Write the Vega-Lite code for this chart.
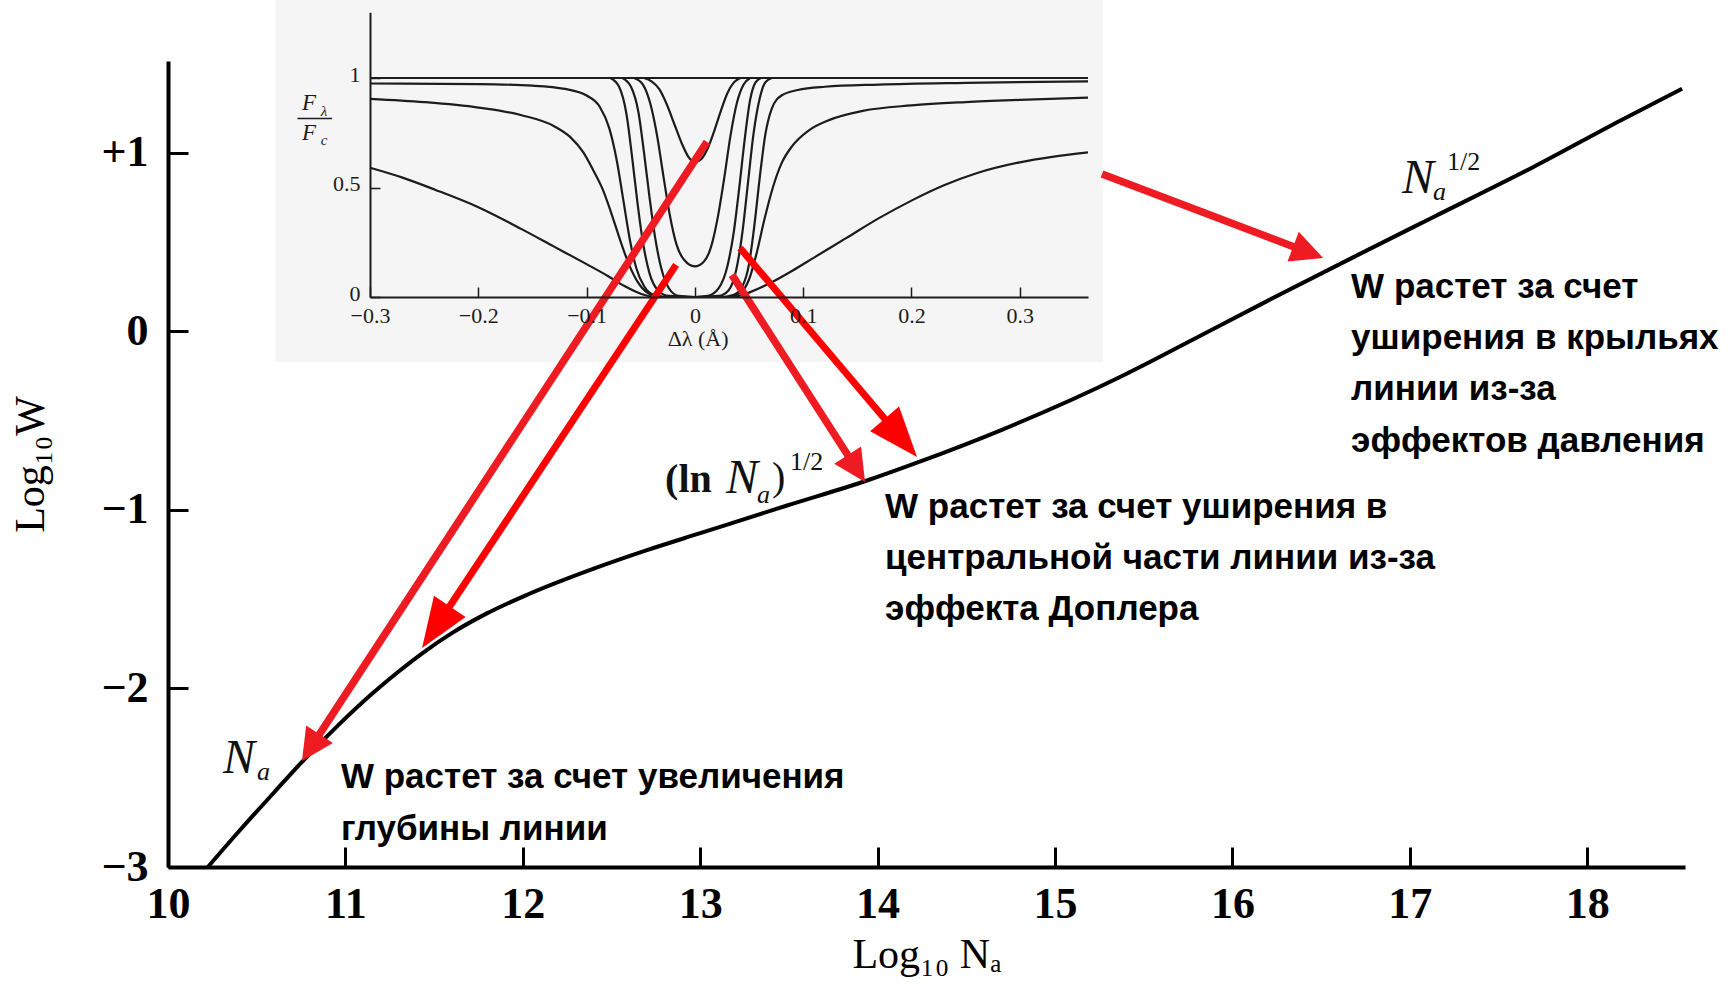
{
  "$schema": "https://vega.github.io/schema/vega-lite/v6.json",
  "width": 1517,
  "height": 806,
  "autosize": {"type": "none"},
  "padding": {"left": 168, "top": 61, "right": 49, "bottom": 117},
  "background": "#ffffff",
  "config": {"view": {"stroke": null}},
  "datasets": {
    "curve": [
      {"logN": 10.225, "logW": -3.0},
      {"logN": 10.4, "logW": -2.8},
      {"logN": 10.6, "logW": -2.58},
      {"logN": 10.761, "logW": -2.405},
      {"logN": 10.95, "logW": -2.215},
      {"logN": 11.15, "logW": -2.03},
      {"logN": 11.3, "logW": -1.905},
      {"logN": 11.437, "logW": -1.8},
      {"logN": 11.6, "logW": -1.69},
      {"logN": 11.8, "logW": -1.578},
      {"logN": 12.024, "logW": -1.475},
      {"logN": 12.396, "logW": -1.33},
      {"logN": 12.7, "logW": -1.225},
      {"logN": 13.0, "logW": -1.13},
      {"logN": 13.49, "logW": -0.975},
      {"logN": 13.94, "logW": -0.835},
      {"logN": 14.222, "logW": -0.735},
      {"logN": 14.69, "logW": -0.555},
      {"logN": 15.366, "logW": -0.255},
      {"logN": 15.575, "logW": -0.15},
      {"logN": 16.195, "logW": 0.17},
      {"logN": 16.68, "logW": 0.415},
      {"logN": 17.131, "logW": 0.64},
      {"logN": 17.694, "logW": 0.92},
      {"logN": 18.185, "logW": 1.18},
      {"logN": 18.535, "logW": 1.36}
    ],
    "arrows": [
      {"id": 1, "n0": 13.038, "w0": 1.062, "n1": 10.755, "w1": -2.406},
      {"id": 2, "n0": 12.864, "w0": 0.373, "n1": 11.432, "w1": -1.773},
      {"id": 3, "n0": 13.179, "w0": 0.317, "n1": 13.929, "w1": -0.843},
      {"id": 4, "n0": 13.224, "w0": 0.468, "n1": 14.222, "w1": -0.703},
      {"id": 5, "n0": 15.265, "w0": 0.882, "n1": 16.511, "w1": 0.412}
    ],
    "notes": [
      {"text": "W растет за счет увеличения", "n": 10.975, "w": -2.557},
      {"text": "глубины линии", "n": 10.975, "w": -2.849},
      {"text": "W растет за счет уширения в", "n": 14.042, "w": -1.045},
      {"text": "центральной части линии из-за", "n": 14.042, "w": -1.331},
      {"text": "эффекта Доплера", "n": 14.042, "w": -1.616},
      {"text": "W растет за счет", "n": 16.669, "w": 0.188},
      {"text": "уширения в крыльях", "n": 16.669, "w": -0.098},
      {"text": "линии из-за", "n": 16.669, "w": -0.384},
      {"text": "эффектов давления", "n": 16.669, "w": -0.675}
    ],
    "math": [
      {"part": "N", "text": "N", "n": 10.31, "w": -2.473},
      {"part": "sub", "text": "a", "n": 10.502, "w": -2.513},
      {"part": "open", "text": "(ln", "n": 12.802, "w": -0.9},
      {"part": "N", "text": "N", "n": 13.146, "w": -0.905},
      {"part": "sub", "text": "a", "n": 13.32, "w": -0.961},
      {"part": "close", "text": ")", "n": 13.405, "w": -0.89},
      {"part": "sup", "text": "1/2", "n": 13.506, "w": -0.776},
      {"part": "N", "text": "N", "n": 16.956, "w": 0.776},
      {"part": "sub", "text": "a", "n": 17.131, "w": 0.737},
      {"part": "sup", "text": "1/2", "n": 17.21, "w": 0.905}
    ],
    "frame": [{"x0": -0.387, "x1": 0.377, "y0": -0.297, "y1": 1.356}],
    "fractionBar": [{"x0": -0.367, "x1": -0.335, "y": 0.815}],
    "insetLabels": [
      {"part": "F", "text": "F", "dl": -0.3628, "F": 0.852},
      {"part": "sub", "text": "λ", "dl": -0.3455, "F": 0.826},
      {"part": "F", "text": "F", "dl": -0.3628, "F": 0.717},
      {"part": "sub", "text": "c", "dl": -0.3455, "F": 0.694},
      {"part": "axis", "text": "Δλ (Å)", "dl": 0.003, "F": -0.222}
    ],
    "profiles": [
      {"p": "A", "dl": -0.3, "F": 1.0},
      {"p": "A", "dl": 0.363, "F": 1.0},

      {"p": "B", "dl": -0.047, "F": 1.0},
      {"p": "B", "dl": -0.04, "F": 0.985},
      {"p": "B", "dl": -0.033, "F": 0.95},
      {"p": "B", "dl": -0.026, "F": 0.88},
      {"p": "B", "dl": -0.019, "F": 0.79},
      {"p": "B", "dl": -0.012, "F": 0.7},
      {"p": "B", "dl": -0.006, "F": 0.64},
      {"p": "B", "dl": 0.0, "F": 0.615},
      {"p": "B", "dl": 0.006, "F": 0.63},
      {"p": "B", "dl": 0.012, "F": 0.68},
      {"p": "B", "dl": 0.018, "F": 0.76},
      {"p": "B", "dl": 0.024, "F": 0.85},
      {"p": "B", "dl": 0.03, "F": 0.93},
      {"p": "B", "dl": 0.036, "F": 0.98},
      {"p": "B", "dl": 0.042, "F": 1.0},

      {"p": "C", "dl": -0.056, "F": 1.0},
      {"p": "C", "dl": -0.048, "F": 0.97},
      {"p": "C", "dl": -0.041, "F": 0.88},
      {"p": "C", "dl": -0.035, "F": 0.74},
      {"p": "C", "dl": -0.029, "F": 0.55},
      {"p": "C", "dl": -0.023, "F": 0.37},
      {"p": "C", "dl": -0.017, "F": 0.24},
      {"p": "C", "dl": -0.01, "F": 0.17},
      {"p": "C", "dl": 0.0, "F": 0.14},
      {"p": "C", "dl": 0.008, "F": 0.16},
      {"p": "C", "dl": 0.015, "F": 0.23},
      {"p": "C", "dl": 0.021, "F": 0.36},
      {"p": "C", "dl": 0.027, "F": 0.54},
      {"p": "C", "dl": 0.033, "F": 0.74},
      {"p": "C", "dl": 0.039, "F": 0.89},
      {"p": "C", "dl": 0.045, "F": 0.97},
      {"p": "C", "dl": 0.051, "F": 1.0},

      {"p": "D", "dl": -0.067, "F": 1.0},
      {"p": "D", "dl": -0.059, "F": 0.96},
      {"p": "D", "dl": -0.052, "F": 0.84},
      {"p": "D", "dl": -0.047, "F": 0.66},
      {"p": "D", "dl": -0.042, "F": 0.46},
      {"p": "D", "dl": -0.037, "F": 0.28},
      {"p": "D", "dl": -0.031, "F": 0.13},
      {"p": "D", "dl": -0.024, "F": 0.04},
      {"p": "D", "dl": -0.015, "F": 0.005},
      {"p": "D", "dl": 0.0, "F": 0.0},
      {"p": "D", "dl": 0.012, "F": 0.005},
      {"p": "D", "dl": 0.022, "F": 0.04},
      {"p": "D", "dl": 0.03, "F": 0.14},
      {"p": "D", "dl": 0.036, "F": 0.3},
      {"p": "D", "dl": 0.041, "F": 0.5},
      {"p": "D", "dl": 0.046, "F": 0.72},
      {"p": "D", "dl": 0.051, "F": 0.9},
      {"p": "D", "dl": 0.056, "F": 0.98},
      {"p": "D", "dl": 0.061, "F": 1.0},

      {"p": "E", "dl": -0.078, "F": 1.0},
      {"p": "E", "dl": -0.07, "F": 0.96},
      {"p": "E", "dl": -0.063, "F": 0.83},
      {"p": "E", "dl": -0.058, "F": 0.64},
      {"p": "E", "dl": -0.053, "F": 0.43},
      {"p": "E", "dl": -0.048, "F": 0.25},
      {"p": "E", "dl": -0.042, "F": 0.11},
      {"p": "E", "dl": -0.034, "F": 0.03},
      {"p": "E", "dl": -0.024, "F": 0.005},
      {"p": "E", "dl": 0.0, "F": 0.0},
      {"p": "E", "dl": 0.022, "F": 0.005},
      {"p": "E", "dl": 0.031, "F": 0.03},
      {"p": "E", "dl": 0.038, "F": 0.12},
      {"p": "E", "dl": 0.044, "F": 0.3},
      {"p": "E", "dl": 0.049, "F": 0.52},
      {"p": "E", "dl": 0.054, "F": 0.74},
      {"p": "E", "dl": 0.06, "F": 0.91},
      {"p": "E", "dl": 0.065, "F": 0.98},
      {"p": "E", "dl": 0.071, "F": 1.0},

      {"p": "F", "dl": -0.3, "F": 0.975},
      {"p": "F", "dl": -0.2, "F": 0.972},
      {"p": "F", "dl": -0.15, "F": 0.965},
      {"p": "F", "dl": -0.12, "F": 0.95},
      {"p": "F", "dl": -0.1, "F": 0.92},
      {"p": "F", "dl": -0.088, "F": 0.87},
      {"p": "F", "dl": -0.079, "F": 0.77},
      {"p": "F", "dl": -0.072, "F": 0.62},
      {"p": "F", "dl": -0.066, "F": 0.44},
      {"p": "F", "dl": -0.06, "F": 0.26},
      {"p": "F", "dl": -0.054, "F": 0.13},
      {"p": "F", "dl": -0.047, "F": 0.05},
      {"p": "F", "dl": -0.038, "F": 0.01},
      {"p": "F", "dl": -0.025, "F": 0.0},
      {"p": "F", "dl": 0.025, "F": 0.0},
      {"p": "F", "dl": 0.036, "F": 0.01},
      {"p": "F", "dl": 0.044, "F": 0.05},
      {"p": "F", "dl": 0.05, "F": 0.15},
      {"p": "F", "dl": 0.055, "F": 0.33},
      {"p": "F", "dl": 0.06, "F": 0.55},
      {"p": "F", "dl": 0.065, "F": 0.74},
      {"p": "F", "dl": 0.071, "F": 0.86},
      {"p": "F", "dl": 0.08, "F": 0.92},
      {"p": "F", "dl": 0.095, "F": 0.945},
      {"p": "F", "dl": 0.12, "F": 0.96},
      {"p": "F", "dl": 0.17, "F": 0.97},
      {"p": "F", "dl": 0.25, "F": 0.978},
      {"p": "F", "dl": 0.363, "F": 0.985},

      {"p": "G", "dl": -0.3, "F": 0.905},
      {"p": "G", "dl": -0.25, "F": 0.89},
      {"p": "G", "dl": -0.2, "F": 0.865},
      {"p": "G", "dl": -0.16, "F": 0.83},
      {"p": "G", "dl": -0.13, "F": 0.78},
      {"p": "G", "dl": -0.115, "F": 0.73},
      {"p": "G", "dl": -0.103, "F": 0.66},
      {"p": "G", "dl": -0.094, "F": 0.58},
      {"p": "G", "dl": -0.085, "F": 0.49},
      {"p": "G", "dl": -0.077, "F": 0.38},
      {"p": "G", "dl": -0.069, "F": 0.26},
      {"p": "G", "dl": -0.061, "F": 0.15},
      {"p": "G", "dl": -0.053, "F": 0.07},
      {"p": "G", "dl": -0.044, "F": 0.02},
      {"p": "G", "dl": -0.032, "F": 0.0},
      {"p": "G", "dl": 0.03, "F": 0.0},
      {"p": "G", "dl": 0.042, "F": 0.02},
      {"p": "G", "dl": 0.05, "F": 0.08},
      {"p": "G", "dl": 0.057, "F": 0.2},
      {"p": "G", "dl": 0.064, "F": 0.35},
      {"p": "G", "dl": 0.072, "F": 0.5},
      {"p": "G", "dl": 0.08, "F": 0.61},
      {"p": "G", "dl": 0.09, "F": 0.69},
      {"p": "G", "dl": 0.105, "F": 0.76},
      {"p": "G", "dl": 0.125, "F": 0.81},
      {"p": "G", "dl": 0.155, "F": 0.85},
      {"p": "G", "dl": 0.2, "F": 0.875},
      {"p": "G", "dl": 0.25, "F": 0.89},
      {"p": "G", "dl": 0.3, "F": 0.9},
      {"p": "G", "dl": 0.363, "F": 0.91},

      {"p": "H", "dl": -0.3, "F": 0.59},
      {"p": "H", "dl": -0.27, "F": 0.545},
      {"p": "H", "dl": -0.24, "F": 0.49},
      {"p": "H", "dl": -0.2, "F": 0.41},
      {"p": "H", "dl": -0.16, "F": 0.31},
      {"p": "H", "dl": -0.13, "F": 0.23},
      {"p": "H", "dl": -0.1, "F": 0.15},
      {"p": "H", "dl": -0.08, "F": 0.095},
      {"p": "H", "dl": -0.065, "F": 0.05},
      {"p": "H", "dl": -0.05, "F": 0.015},
      {"p": "H", "dl": -0.035, "F": 0.0},
      {"p": "H", "dl": 0.035, "F": 0.0},
      {"p": "H", "dl": 0.05, "F": 0.02},
      {"p": "H", "dl": 0.07, "F": 0.065},
      {"p": "H", "dl": 0.09, "F": 0.12},
      {"p": "H", "dl": 0.11, "F": 0.18},
      {"p": "H", "dl": 0.14, "F": 0.27},
      {"p": "H", "dl": 0.17, "F": 0.36},
      {"p": "H", "dl": 0.2, "F": 0.44},
      {"p": "H", "dl": 0.23, "F": 0.51},
      {"p": "H", "dl": 0.26, "F": 0.565},
      {"p": "H", "dl": 0.3, "F": 0.615},
      {"p": "H", "dl": 0.33, "F": 0.64},
      {"p": "H", "dl": 0.363, "F": 0.66}
    ]
  },
  "layer": [
    {
      "layer": [
        {
          "data": {"name": "frame"},
          "mark": {"type": "rect", "fill": "#f5f5f5", "stroke": null},
          "encoding": {
            "x": {"field": "x0", "type": "quantitative", "scale": {"domain": [-0.3, 0.363], "range": [202, 920], "nice": false, "zero": false}},
            "x2": {"field": "x1"},
            "y": {"field": "y0", "type": "quantitative", "scale": {"domain": [0, 1.3], "range": [236, -48.7], "nice": false, "zero": false}},
            "y2": {"field": "y1"}
          }
        },
        {
          "data": {"name": "profiles"},
          "mark": {"type": "line", "interpolate": "monotone", "color": "#1c1c1c", "strokeWidth": 2.2},
          "encoding": {
            "x": {
              "field": "dl", "type": "quantitative",
              "scale": {"domain": [-0.3, 0.363], "range": [202, 920], "nice": false, "zero": false},
              "axis": {
                "orient": "bottom", "offset": -570, "zindex": 1, "title": null, "grid": false,
                "values": [-0.3, -0.2, -0.1, 0, 0.1, 0.2, 0.3], "format": "~g",
                "domainColor": "#1c1c1c", "domainWidth": 2,
                "tickColor": "#1c1c1c", "tickWidth": 1.5, "tickSize": -10,
                "labelFont": "Liberation Serif", "labelFontSize": 22, "labelColor": "#1c1c1c",
                "labelPadding": 18, "labelFlush": false, "labelOverlap": false
              }
            },
            "y": {
              "field": "F", "type": "quantitative",
              "scale": {"domain": [0, 1.3], "range": [236, -48.7], "nice": false, "zero": false},
              "axis": {
                "orient": "left", "offset": -202, "zindex": 1, "title": null, "grid": false,
                "values": [0, 0.5, 1], "format": "~g",
                "domainColor": "#1c1c1c", "domainWidth": 2,
                "tickColor": "#1c1c1c", "tickWidth": 1.5, "tickSize": -10,
                "labelFont": "Liberation Serif", "labelFontSize": 22, "labelColor": "#1c1c1c",
                "labelPadding": 20, "labelOffset": -4, "labelFlush": false, "labelOverlap": false
              }
            },
            "detail": {"field": "p", "type": "nominal"}
          }
        },
        {
          "data": {"name": "fractionBar"},
          "mark": {"type": "rule", "color": "#1c1c1c", "strokeWidth": 1.5},
          "encoding": {
            "x": {"field": "x0", "type": "quantitative", "scale": {"domain": [-0.3, 0.363], "range": [202, 920], "nice": false, "zero": false}},
            "x2": {"field": "x1"},
            "y": {"field": "y", "type": "quantitative", "scale": {"domain": [0, 1.3], "range": [236, -48.7], "nice": false, "zero": false}}
          }
        },
        {
          "data": {"name": "insetLabels"},
          "transform": [{"filter": "datum.part == 'F'"}],
          "mark": {"type": "text", "font": "Liberation Serif", "fontStyle": "italic", "fontSize": 23, "align": "left", "baseline": "alphabetic", "color": "#1c1c1c"},
          "encoding": {
            "x": {"field": "dl", "type": "quantitative", "scale": {"domain": [-0.3, 0.363], "range": [202, 920], "nice": false, "zero": false}},
            "y": {"field": "F", "type": "quantitative", "scale": {"domain": [0, 1.3], "range": [236, -48.7], "nice": false, "zero": false}},
            "text": {"field": "text"}
          }
        },
        {
          "data": {"name": "insetLabels"},
          "transform": [{"filter": "datum.part == 'sub'"}],
          "mark": {"type": "text", "font": "Liberation Serif", "fontStyle": "italic", "fontSize": 15, "align": "left", "baseline": "alphabetic", "color": "#1c1c1c"},
          "encoding": {
            "x": {"field": "dl", "type": "quantitative", "scale": {"domain": [-0.3, 0.363], "range": [202, 920], "nice": false, "zero": false}},
            "y": {"field": "F", "type": "quantitative", "scale": {"domain": [0, 1.3], "range": [236, -48.7], "nice": false, "zero": false}},
            "text": {"field": "text"}
          }
        },
        {
          "data": {"name": "insetLabels"},
          "transform": [{"filter": "datum.part == 'axis'"}],
          "mark": {"type": "text", "font": "Liberation Serif", "fontSize": 22, "align": "center", "baseline": "alphabetic", "color": "#1c1c1c"},
          "encoding": {
            "x": {"field": "dl", "type": "quantitative", "scale": {"domain": [-0.3, 0.363], "range": [202, 920], "nice": false, "zero": false}},
            "y": {"field": "F", "type": "quantitative", "scale": {"domain": [0, 1.3], "range": [236, -48.7], "nice": false, "zero": false}},
            "text": {"field": "text"}
          }
        }
      ]
    },
    {
      "layer": [
        {
          "data": {"name": "curve"},
          "mark": {"type": "line", "interpolate": "monotone", "color": "#000000", "strokeWidth": 4},
          "encoding": {
            "x": {
              "field": "logN", "type": "quantitative",
              "scale": {"domain": [10, 18.551], "nice": false, "zero": false},
              "axis": {
                "orient": "bottom", "title": "Log₁₀ Nₐ", "grid": false,
                "values": [10, 11, 12, 13, 14, 15, 16, 17, 18], "format": "d",
                "domainColor": "#000000", "domainWidth": 4,
                "tickColor": "#000000", "tickWidth": 3, "tickSize": -20,
                "labelFont": "Liberation Serif", "labelFontSize": 44, "labelFontWeight": "bold", "labelColor": "#000000",
                "labelPadding": 35, "labelFlush": false, "labelOverlap": false,
                "titleFont": "Liberation Serif", "titleFontSize": 42, "titleFontWeight": "normal", "titleColor": "#000000",
                "titlePadding": 8
              }
            },
            "y": {
              "field": "logW", "type": "quantitative",
              "scale": {"domain": [-3, 1.515], "nice": false, "zero": false},
              "axis": {
                "orient": "left", "title": "Log₁₀W", "grid": false,
                "values": [-3, -2, -1, 0, 1], "format": "d",
                "labelExpr": "datum.value > 0 ? '+' + datum.label : datum.label",
                "domainColor": "#000000", "domainWidth": 4,
                "tickColor": "#000000", "tickWidth": 3, "tickSize": -20,
                "labelFont": "Liberation Serif", "labelFontSize": 44, "labelFontWeight": "bold", "labelColor": "#000000",
                "labelPadding": 40, "labelFlush": false, "labelOverlap": false,
                "titleFont": "Liberation Serif", "titleFontSize": 42, "titleFontWeight": "normal", "titleColor": "#000000",
                "titlePadding": 48
              }
            }
          }
        },
        {
          "data": {"name": "arrows"},
          "transform": [
            {"filter": "datum.id == 1 || datum.id == 3 || datum.id == 5"},
            {"calculate": "sqrt(pow(datum.n1 - datum.n0, 2) + pow(datum.w1 - datum.w0, 2))", "as": "len"},
            {"calculate": "datum.n1 - 0.13 * (datum.n1 - datum.n0) / datum.len", "as": "ne"},
            {"calculate": "datum.w1 - 0.13 * (datum.w1 - datum.w0) / datum.len", "as": "we"}
          ],
          "mark": {"type": "rule", "color": "#ee1c22", "strokeWidth": 7.5, "strokeCap": "butt"},
          "encoding": {
            "x": {"field": "n0", "type": "quantitative", "scale": {"domain": [10, 18.551], "nice": false, "zero": false}},
            "y": {"field": "w0", "type": "quantitative", "scale": {"domain": [-3, 1.515], "nice": false, "zero": false}},
            "x2": {"field": "ne"},
            "y2": {"field": "we"}
          }
        },
        {
          "data": {"name": "arrows"},
          "transform": [
            {"filter": "datum.id == 1 || datum.id == 3 || datum.id == 5"},
            {"calculate": "atan2(datum.n1 - datum.n0, datum.w1 - datum.w0) * 180 / PI", "as": "ang"}
          ],
          "mark": {"type": "point", "shape": "M0,0L-1,2L1,2Z", "filled": true, "opacity": 1, "size": 1024, "color": "#ee1c22", "strokeWidth": 0},
          "encoding": {
            "x": {"field": "n1", "type": "quantitative", "scale": {"domain": [10, 18.551], "nice": false, "zero": false}},
            "y": {"field": "w1", "type": "quantitative", "scale": {"domain": [-3, 1.515], "nice": false, "zero": false}},
            "angle": {"field": "ang", "type": "quantitative", "scale": null}
          }
        },
        {
          "data": {"name": "arrows"},
          "transform": [
            {"filter": "datum.id == 2 || datum.id == 4"},
            {"calculate": "sqrt(pow(datum.n1 - datum.n0, 2) + pow(datum.w1 - datum.w0, 2))", "as": "len"},
            {"calculate": "datum.n1 - 0.2 * (datum.n1 - datum.n0) / datum.len", "as": "ne"},
            {"calculate": "datum.w1 - 0.2 * (datum.w1 - datum.w0) / datum.len", "as": "we"}
          ],
          "mark": {"type": "rule", "color": "#ff0000", "strokeWidth": 7, "strokeCap": "butt"},
          "encoding": {
            "x": {"field": "n0", "type": "quantitative", "scale": {"domain": [10, 18.551], "nice": false, "zero": false}},
            "y": {"field": "w0", "type": "quantitative", "scale": {"domain": [-3, 1.515], "nice": false, "zero": false}},
            "x2": {"field": "ne"},
            "y2": {"field": "we"}
          }
        },
        {
          "data": {"name": "arrows"},
          "transform": [
            {"filter": "datum.id == 2 || datum.id == 4"},
            {"calculate": "atan2(datum.n1 - datum.n0, datum.w1 - datum.w0) * 180 / PI", "as": "ang"}
          ],
          "mark": {"type": "point", "shape": "M0,0L-0.76,2L0.76,2Z", "filled": true, "opacity": 1, "size": 2500, "color": "#ff0000", "strokeWidth": 0},
          "encoding": {
            "x": {"field": "n1", "type": "quantitative", "scale": {"domain": [10, 18.551], "nice": false, "zero": false}},
            "y": {"field": "w1", "type": "quantitative", "scale": {"domain": [-3, 1.515], "nice": false, "zero": false}},
            "angle": {"field": "ang", "type": "quantitative", "scale": null}
          }
        },
        {
          "data": {"name": "notes"},
          "mark": {"type": "text", "font": "Liberation Sans", "fontWeight": "bold", "fontSize": 35, "align": "left", "baseline": "alphabetic", "color": "#000000"},
          "encoding": {
            "x": {"field": "n", "type": "quantitative", "scale": {"domain": [10, 18.551], "nice": false, "zero": false}},
            "y": {"field": "w", "type": "quantitative", "scale": {"domain": [-3, 1.515], "nice": false, "zero": false}},
            "text": {"field": "text"}
          }
        },
        {
          "data": {"name": "math"},
          "transform": [{"filter": "datum.part == 'N'"}],
          "mark": {"type": "text", "font": "Liberation Serif", "fontStyle": "italic", "fontSize": 48, "align": "left", "baseline": "alphabetic", "color": "#111111"},
          "encoding": {
            "x": {"field": "n", "type": "quantitative", "scale": {"domain": [10, 18.551], "nice": false, "zero": false}},
            "y": {"field": "w", "type": "quantitative", "scale": {"domain": [-3, 1.515], "nice": false, "zero": false}},
            "text": {"field": "text"}
          }
        },
        {
          "data": {"name": "math"},
          "transform": [{"filter": "datum.part == 'sub'"}],
          "mark": {"type": "text", "font": "Liberation Serif", "fontStyle": "italic", "fontSize": 26, "align": "left", "baseline": "alphabetic", "color": "#111111"},
          "encoding": {
            "x": {"field": "n", "type": "quantitative", "scale": {"domain": [10, 18.551], "nice": false, "zero": false}},
            "y": {"field": "w", "type": "quantitative", "scale": {"domain": [-3, 1.515], "nice": false, "zero": false}},
            "text": {"field": "text"}
          }
        },
        {
          "data": {"name": "math"},
          "transform": [{"filter": "datum.part == 'sup'"}],
          "mark": {"type": "text", "font": "Liberation Serif", "fontSize": 26, "align": "left", "baseline": "alphabetic", "color": "#111111"},
          "encoding": {
            "x": {"field": "n", "type": "quantitative", "scale": {"domain": [10, 18.551], "nice": false, "zero": false}},
            "y": {"field": "w", "type": "quantitative", "scale": {"domain": [-3, 1.515], "nice": false, "zero": false}},
            "text": {"field": "text"}
          }
        },
        {
          "data": {"name": "math"},
          "transform": [{"filter": "datum.part == 'open'"}],
          "mark": {"type": "text", "font": "Liberation Serif", "fontWeight": "bold", "fontSize": 40, "align": "left", "baseline": "alphabetic", "color": "#111111"},
          "encoding": {
            "x": {"field": "n", "type": "quantitative", "scale": {"domain": [10, 18.551], "nice": false, "zero": false}},
            "y": {"field": "w", "type": "quantitative", "scale": {"domain": [-3, 1.515], "nice": false, "zero": false}},
            "text": {"field": "text"}
          }
        },
        {
          "data": {"name": "math"},
          "transform": [{"filter": "datum.part == 'close'"}],
          "mark": {"type": "text", "font": "Liberation Serif", "fontSize": 40, "align": "left", "baseline": "alphabetic", "color": "#111111"},
          "encoding": {
            "x": {"field": "n", "type": "quantitative", "scale": {"domain": [10, 18.551], "nice": false, "zero": false}},
            "y": {"field": "w", "type": "quantitative", "scale": {"domain": [-3, 1.515], "nice": false, "zero": false}},
            "text": {"field": "text"}
          }
        }
      ]
    }
  ],
  "resolve": {"scale": {"x": "independent", "y": "independent"}}
}
